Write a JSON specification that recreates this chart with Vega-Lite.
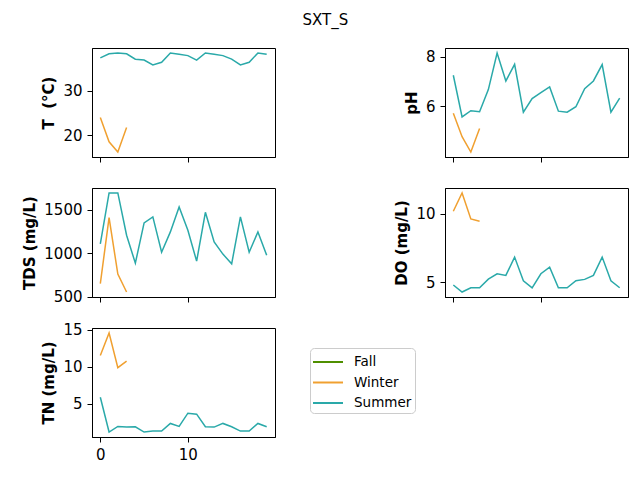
{
  "$schema": "https://vega.github.io/schema/vega-lite/v6.json",
  "background": "white",
  "padding": {"left": 22, "top": 12, "right": 10, "bottom": 5},
  "title": {"text": "SXT_S", "anchor": "middle", "fontSize": 15, "font": "DejaVu Sans", "fontWeight": "normal", "color": "black", "offset": 20},
  "data": {"values": [
    {"season": "Winter", "i": 0, "T": 24.0, "pH": 5.73, "TDS": 648, "DO": 10.17, "TN": 11.52},
    {"season": "Winter", "i": 1, "T": 18.5, "pH": 4.78, "TDS": 1410, "DO": 11.50, "TN": 14.55},
    {"season": "Winter", "i": 2, "T": 16.2, "pH": 4.16, "TDS": 759, "DO": 9.61, "TN": 9.87},
    {"season": "Winter", "i": 3, "T": 21.7, "pH": 5.11, "TDS": 552, "DO": 9.44, "TN": 10.76},
    {"season": "Summer", "i": 0, "T": 37.4, "pH": 7.26, "TDS": 1107, "DO": 4.81, "TN": 5.89},
    {"season": "Summer", "i": 1, "T": 38.3, "pH": 5.58, "TDS": 1694, "DO": 4.30, "TN": 1.21},
    {"season": "Summer", "i": 2, "T": 38.5, "pH": 5.83, "TDS": 1694, "DO": 4.61, "TN": 1.96},
    {"season": "Summer", "i": 3, "T": 38.3, "pH": 5.79, "TDS": 1207, "DO": 4.61, "TN": 1.88},
    {"season": "Summer", "i": 4, "T": 37.1, "pH": 6.68, "TDS": 885, "DO": 5.24, "TN": 1.92},
    {"season": "Summer", "i": 5, "T": 36.9, "pH": 8.16, "TDS": 1349, "DO": 5.63, "TN": 1.21},
    {"season": "Summer", "i": 6, "T": 35.8, "pH": 7.03, "TDS": 1418, "DO": 5.51, "TN": 1.34},
    {"season": "Summer", "i": 7, "T": 36.4, "pH": 7.70, "TDS": 1011, "DO": 6.84, "TN": 1.34},
    {"season": "Summer", "i": 8, "T": 38.5, "pH": 5.77, "TDS": 1245, "DO": 5.12, "TN": 2.37},
    {"season": "Summer", "i": 9, "T": 38.2, "pH": 6.32, "TDS": 1533, "DO": 4.61, "TN": 1.96},
    {"season": "Summer", "i": 10, "T": 37.9, "pH": 6.56, "TDS": 1264, "DO": 5.63, "TN": 3.75},
    {"season": "Summer", "i": 11, "T": 36.9, "pH": 6.79, "TDS": 908, "DO": 6.11, "TN": 3.62},
    {"season": "Summer", "i": 12, "T": 38.5, "pH": 5.81, "TDS": 1471, "DO": 4.61, "TN": 1.92},
    {"season": "Summer", "i": 13, "T": 38.2, "pH": 5.77, "TDS": 1130, "DO": 4.61, "TN": 1.88},
    {"season": "Summer", "i": 14, "T": 37.9, "pH": 5.99, "TDS": 989, "DO": 5.12, "TN": 2.37},
    {"season": "Summer", "i": 15, "T": 37.1, "pH": 6.72, "TDS": 877, "DO": 5.22, "TN": 1.92},
    {"season": "Summer", "i": 16, "T": 35.8, "pH": 7.03, "TDS": 1418, "DO": 5.51, "TN": 1.34},
    {"season": "Summer", "i": 17, "T": 36.4, "pH": 7.69, "TDS": 1011, "DO": 6.84, "TN": 1.34},
    {"season": "Summer", "i": 18, "T": 38.5, "pH": 5.77, "TDS": 1245, "DO": 5.12, "TN": 2.37},
    {"season": "Summer", "i": 19, "T": 38.2, "pH": 6.34, "TDS": 977, "DO": 4.61, "TN": 1.92}
  ]},
  "columns": 2,
  "spacing": {"row": 31, "column": 170},
  "align": "each",
  "bounds": "flush",
  "resolve": {"scale": {"x": "independent", "y": "independent", "color": "shared"}},
  "concat": [
    {
      "width": 183, "height": 109,
      "mark": {"type": "line", "strokeWidth": 1.5},
      "encoding": {
        "x": {"field": "i", "type": "quantitative", "scale": {"domain": [-0.95, 19.95], "nice": false, "zero": false}, "axis": {"values": [0, 10], "labels": false, "title": null}},
        "y": {"field": "T", "type": "quantitative", "scale": {"domain": [15.085, 39.615], "nice": false, "zero": false}, "axis": {"values": [20, 30], "format": "d", "title": "T\u00a0 (°C)"}},
        "color": {"field": "season", "type": "nominal", "scale": {"domain": ["Fall", "Winter", "Summer"], "range": ["#4f8f00", "#f0a030", "#2aa9a9"]},
          "legend": {"title": null, "orient": "none", "legendX": 218, "legendY": 300, "symbolType": "M-1.5,0H1.5", "symbolSize": 400, "symbolStrokeWidth": 2, "symbolOffset": 4, "labelFontSize": 13.5, "labelFont": "DejaVu Sans", "labelColor": "black", "strokeColor": "#cccccc", "fillColor": "white", "cornerRadius": 4, "padding": 3, "rowPadding": 2.5, "labelOffset": 15}}
      }
    },
    {
      "width": 183, "height": 109,
      "mark": {"type": "line", "strokeWidth": 1.5},
      "encoding": {
        "x": {"field": "i", "type": "quantitative", "scale": {"domain": [-0.95, 19.95], "nice": false, "zero": false}, "axis": {"values": [0, 10], "labels": false, "title": null}},
        "y": {"field": "pH", "type": "quantitative", "scale": {"domain": [3.96, 8.36], "nice": false, "zero": false}, "axis": {"values": [6, 8], "format": "d", "title": "pH"}},
        "color": {"field": "season", "type": "nominal", "scale": {"domain": ["Fall", "Winter", "Summer"], "range": ["#4f8f00", "#f0a030", "#2aa9a9"]}}
      }
    },
    {
      "width": 183, "height": 109,
      "mark": {"type": "line", "strokeWidth": 1.5},
      "encoding": {
        "x": {"field": "i", "type": "quantitative", "scale": {"domain": [-0.95, 19.95], "nice": false, "zero": false}, "axis": {"values": [0, 10], "labels": false, "title": null}},
        "y": {"field": "TDS", "type": "quantitative", "scale": {"domain": [494.9, 1751.1], "nice": false, "zero": false}, "axis": {"values": [500, 1000, 1500], "format": "d", "title": "TDS (mg/L)"}},
        "color": {"field": "season", "type": "nominal", "scale": {"domain": ["Fall", "Winter", "Summer"], "range": ["#4f8f00", "#f0a030", "#2aa9a9"]}}
      }
    },
    {
      "width": 183, "height": 109,
      "mark": {"type": "line", "strokeWidth": 1.5},
      "encoding": {
        "x": {"field": "i", "type": "quantitative", "scale": {"domain": [-0.95, 19.95], "nice": false, "zero": false}, "axis": {"values": [0, 10], "labels": false, "title": null}},
        "y": {"field": "DO", "type": "quantitative", "scale": {"domain": [3.94, 11.86], "nice": false, "zero": false}, "axis": {"values": [5, 10], "format": "d", "title": "DO (mg/L)"}},
        "color": {"field": "season", "type": "nominal", "scale": {"domain": ["Fall", "Winter", "Summer"], "range": ["#4f8f00", "#f0a030", "#2aa9a9"]}}
      }
    },
    {
      "width": 183, "height": 109,
      "mark": {"type": "line", "strokeWidth": 1.5},
      "encoding": {
        "x": {"field": "i", "type": "quantitative", "scale": {"domain": [-0.95, 19.95], "nice": false, "zero": false}, "axis": {"values": [0, 10], "format": "d", "title": null}},
        "y": {"field": "TN", "type": "quantitative", "scale": {"domain": [0.543, 15.217], "nice": false, "zero": false}, "axis": {"values": [5, 10, 15], "format": "d", "title": "TN (mg/L)"}},
        "color": {"field": "season", "type": "nominal", "scale": {"domain": ["Fall", "Winter", "Summer"], "range": ["#4f8f00", "#f0a030", "#2aa9a9"]}}
      }
    }
  ],
  "config": {
    "view": {"stroke": "black", "strokeWidth": 1},
    "axis": {"domainColor": "black", "tickColor": "black", "labelColor": "black", "titleColor": "black", "labelFont": "DejaVu Sans", "titleFont": "DejaVu Sans", "labelFontSize": 15, "titleFontSize": 15, "titleFontWeight": "bold", "tickSize": 5, "grid": false, "labelPadding": 5, "titlePadding": 6, "labelFlush": false}
  }
}
